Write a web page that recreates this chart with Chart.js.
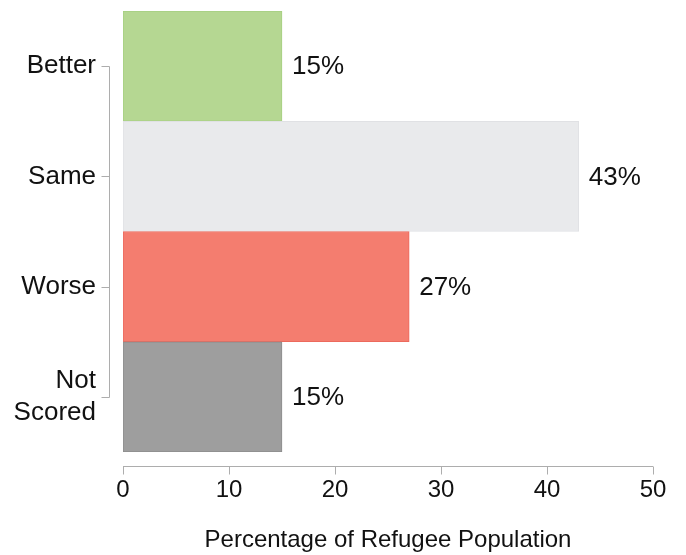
<!DOCTYPE html>
<html>
<head>
<meta charset="utf-8">
<script src="https://cdn.jsdelivr.net/npm/chart.js@4/dist/chart.umd.min.js"></script>
<style>
  html, body { margin: 0; padding: 0; background: #fff; }
  #wrap { width: 686px; height: 555px; position: relative; }
</style>
</head>
<body>
<div id="wrap"><canvas id="chart"></canvas></div>
<script>
(() => {
  'use strict';

  // chart data
  const categories = ['Better', 'Same', 'Worse', ['Not', 'Scored']];
  const values = [15, 43, 27, 15];
  const xTicks = [0, 10, 20, 30, 40, 50];

  const FILL = ['#b5d792', '#e9eaec', '#f47d6f', '#9e9e9e'];
  const EDGE = ['#a6cf80', '#e0e1e4', '#ec6a5d', '#8c8c8c'];
  const AXIS = '#adadad';
  const FAMILY = '"Liberation Sans", Arial, Helvetica, sans-serif';
  const FONT = { family: FAMILY, size: 24 };
  const BIG = { family: FAMILY, size: 26 };

  // d3-style axes: bracket on y, detached line on x
  const axes = {
    id: 'axes',
    afterDraw(chart) {
      const { ctx, chartArea, scales: { x, y } } = chart;
      ctx.save();
      ctx.strokeStyle = AXIS;
      ctx.lineWidth = 1;
      ctx.beginPath();

      const yx = Math.round(chartArea.left - 14) + 0.5;
      const first = Math.round(y.getPixelForTick(0)) + 0.5;
      const last = Math.round(y.getPixelForTick(categories.length - 1)) + 0.5;
      ctx.moveTo(yx, first);
      ctx.lineTo(yx, last);
      categories.forEach((c, i) => {
        const py = Math.round(y.getPixelForTick(i)) + 0.5;
        ctx.moveTo(yx - 8, py);
        ctx.lineTo(yx, py);
      });

      const xy = Math.round(chartArea.bottom + 14) + 0.5;
      ctx.moveTo(x.getPixelForValue(xTicks[0]), xy);
      ctx.lineTo(x.getPixelForValue(xTicks[xTicks.length - 1]), xy);
      xTicks.forEach((v) => {
        const px = Math.round(x.getPixelForValue(v)) + 0.5;
        ctx.moveTo(px, xy);
        ctx.lineTo(px, xy + 8);
      });
      ctx.stroke();
      ctx.restore();
    },
  };

  // value labels right of each bar
  const barLabels = {
    id: 'barLabels',
    afterDatasetsDraw(chart) {
      const { ctx } = chart;
      ctx.save();
      ctx.font = `${BIG.size}px ${BIG.family}`;
      ctx.fillStyle = '#111';
      ctx.textAlign = 'left';
      ctx.textBaseline = 'middle';
      chart.getDatasetMeta(0).data.forEach((bar, i) => {
        ctx.fillText(values[i] + '%', bar.x + 10, bar.y + 1);
      });
      ctx.restore();
    },
  };

  new Chart(document.getElementById('chart'), {
    type: 'bar',
    data: {
      labels: categories,
      datasets: [{
        data: values,
        backgroundColor: FILL,
        borderColor: EDGE,
        borderWidth: 1,
        borderSkipped: false,
        categoryPercentage: 1,
        barPercentage: 1,
      }],
    },
    options: {
      indexAxis: 'y',
      responsive: true,
      maintainAspectRatio: false,
      animation: false,
      layout: { padding: { top: 11, right: 33, left: 0, bottom: 0 } },
      plugins: {
        legend: { display: false },
        tooltip: { enabled: false },
      },
      scales: {
        x: {
          min: 0,
          max: 50,
          afterFit: (s) => { s.height = 103; s.paddingLeft = 0; s.paddingRight = 0; },
          ticks: { stepSize: 10, color: '#111', font: FONT, padding: 24, maxRotation: 0 },
          grid: { display: false, drawTicks: false },
          border: { display: false },
          title: {
            display: true,
            text: 'Percentage of Refugee Population',
            color: '#111',
            font: FONT,
            padding: { top: 0, bottom: 0 },
          },
        },
        y: {
          afterFit: (s) => { s.width = 123; s.paddingTop = 0; s.paddingBottom = 0; },
          ticks: { color: '#111', font: { ...BIG, lineHeight: 1.25 }, padding: 27 },
          grid: { display: false, drawTicks: false },
          border: { display: false },
        },
      },
    },
    plugins: [axes, barLabels],
  });
})();
</script>
</body>
</html>
